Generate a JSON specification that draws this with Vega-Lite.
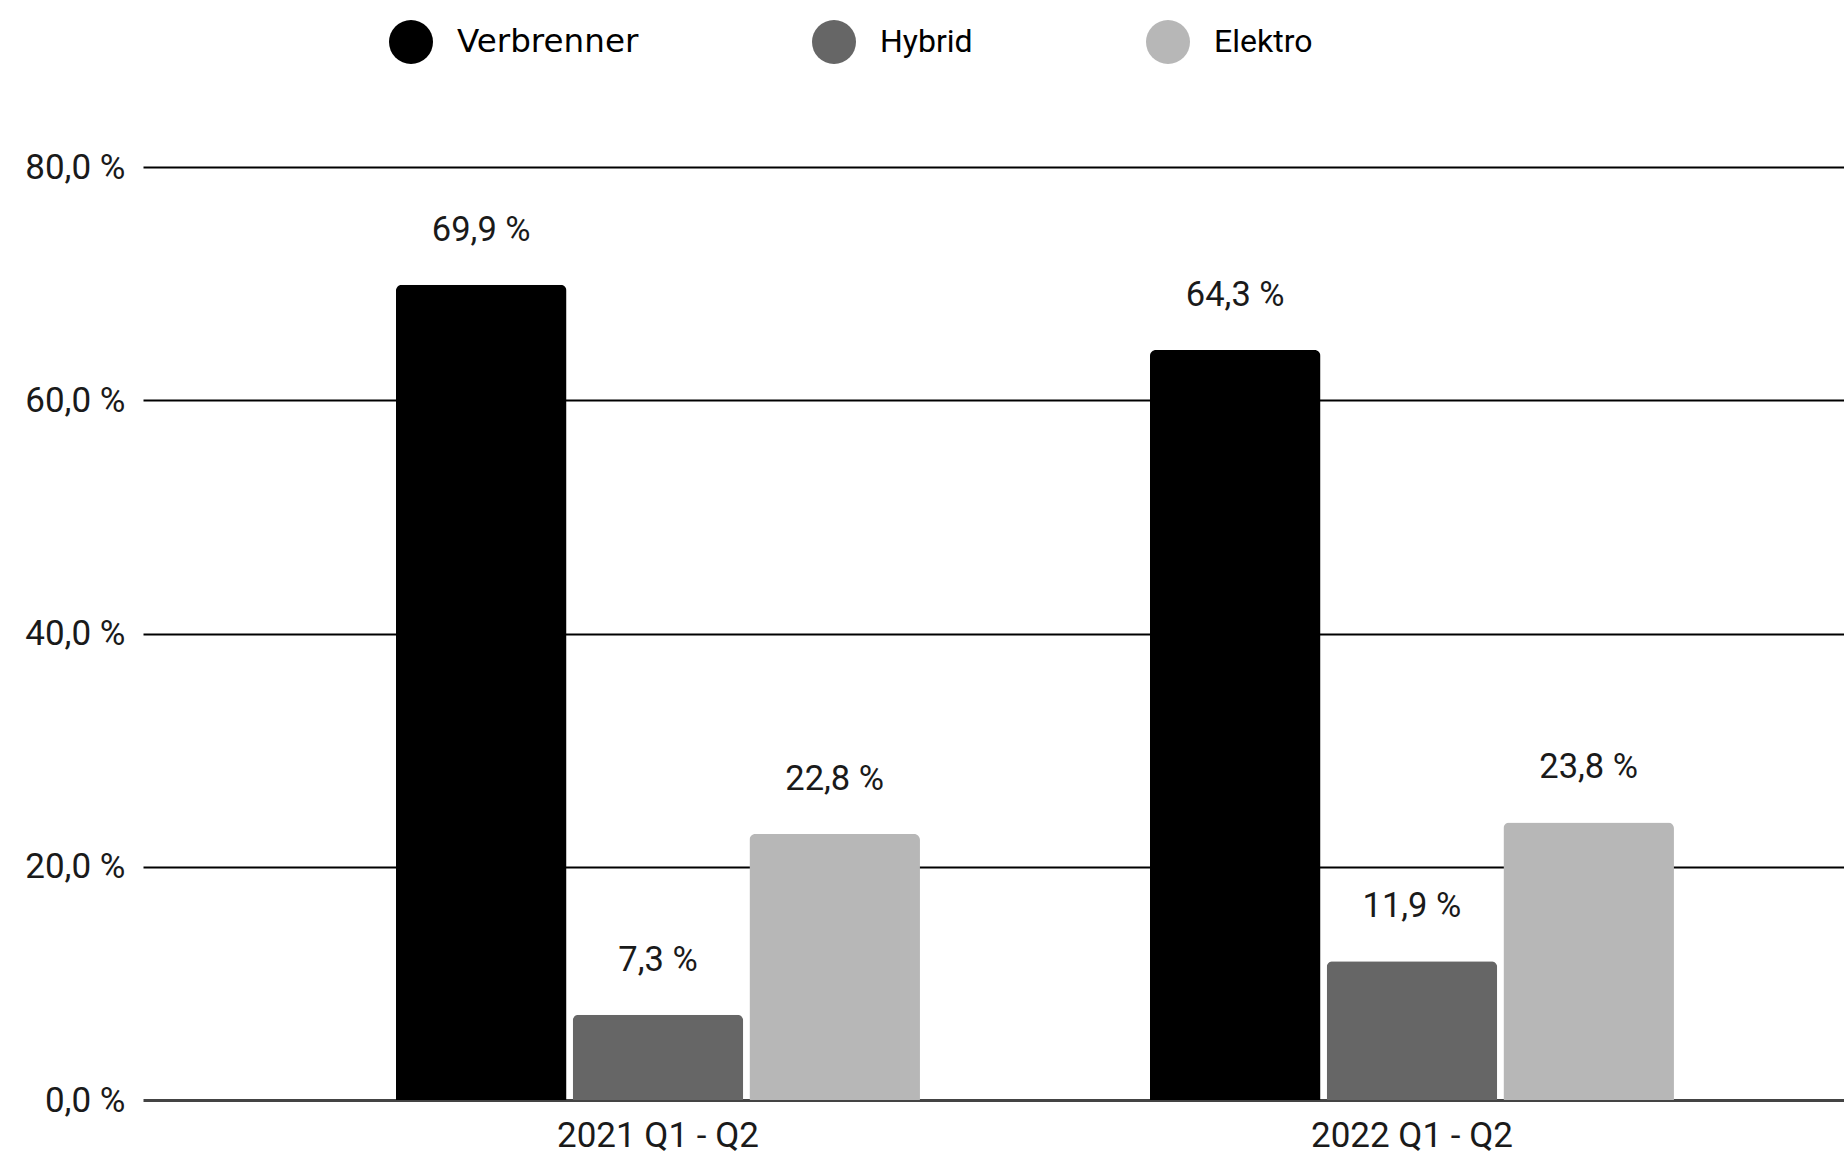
{
  "$schema": "https://vega.github.io/schema/vega-lite/v6.json",
  "autosize": {"type": "none"},
  "width": 1701,
  "height": 933,
  "padding": {"left": 143, "top": 167, "right": 0, "bottom": 57},
  "background": "white",
  "config": {
    "view": {"stroke": null},
    "locale": {"number": {"decimal": ",", "thousands": ".", "grouping": [3], "currency": ["", " €"], "percent": " %"}},
    "font": "Roboto"
  },
  "data": {
    "values": [
      {"period": "2021 Q1 - Q2", "type": "Verbrenner", "share": 0.699},
      {"period": "2021 Q1 - Q2", "type": "Hybrid", "share": 0.073},
      {"period": "2021 Q1 - Q2", "type": "Elektro", "share": 0.228},
      {"period": "2022 Q1 - Q2", "type": "Verbrenner", "share": 0.643},
      {"period": "2022 Q1 - Q2", "type": "Hybrid", "share": 0.119},
      {"period": "2022 Q1 - Q2", "type": "Elektro", "share": 0.238}
    ]
  },
  "encoding": {
    "x": {
      "field": "period", "type": "nominal", "title": null,
      "scale": {"paddingInner": 0.305, "paddingOuter": 0.2805, "align": 0.598},
      "axis": {"labelAngle": 0, "domain": false, "ticks": false, "labelFont": "Roboto", "labelFontSize": 35, "labelColor": "#1a1a1a", "labelPadding": 18, "labelLimit": 500}
    },
    "xOffset": {
      "field": "type", "type": "nominal", "sort": ["Verbrenner", "Hybrid", "Elektro"],
      "scale": {"paddingInner": 0.035, "paddingOuter": 0}
    },
    "y": {
      "field": "share", "type": "quantitative", "title": null,
      "scale": {"domain": [0, 0.8], "nice": false},
      "axis": {
        "values": [0, 0.2, 0.4, 0.6, 0.8], "format": ".1%",
        "domain": false, "ticks": false,
        "labelFont": "Roboto", "labelFontSize": 35, "labelColor": "#1a1a1a", "labelPadding": 18,
        "grid": true,
        "gridColor": {"condition": {"test": "datum.value === 0", "value": "#444444"}, "value": "#000000"},
        "gridWidth": {"condition": {"test": "datum.value === 0", "value": 3}, "value": 2}
      }
    }
  },
  "layer": [
    {
      "mark": {"type": "bar", "cornerRadiusTopLeft": 6, "cornerRadiusTopRight": 6},
      "encoding": {
        "color": {
          "field": "type", "type": "nominal", "title": null,
          "scale": {"domain": ["Verbrenner", "Hybrid", "Elektro"], "range": ["#000000", "#666666", "#b7b7b7"]},
          "legend": {
            "orient": "none", "direction": "horizontal", "columns": 3,
            "legendX": 246, "legendY": -147, "padding": 0,
            "symbolType": "circle", "symbolSize": 1936, "symbolStrokeWidth": 0, "symbolOpacity": 1,
            "labelFont": "Roboto", "labelFontSize": 32, "labelColor": "#000000", "labelOffset": 24,
            "columnPadding": 173, "labelLimit": 400,
            "labelExpr": "datum.label === 'Verbrenner' ? datum.label + '\u00a0\u00a0' : datum.label",
            "encode": {
              "labels": {"update": {
                "font": {"signal": "datum.label === 'Verbrenner' ? 'DejaVu Sans' : 'Roboto'"},
                "fontSize": {"signal": "datum.label === 'Verbrenner' ? 32.6 : 32"}
              }}
            }
          }
        }
      }
    },
    {
      "mark": {"type": "text", "baseline": "alphabetic", "dy": -44, "font": "Roboto", "fontSize": 34.5, "color": "#1a1a1a"},
      "encoding": {
        "text": {"field": "share", "type": "quantitative", "format": ".1%"}
      }
    }
  ]
}
